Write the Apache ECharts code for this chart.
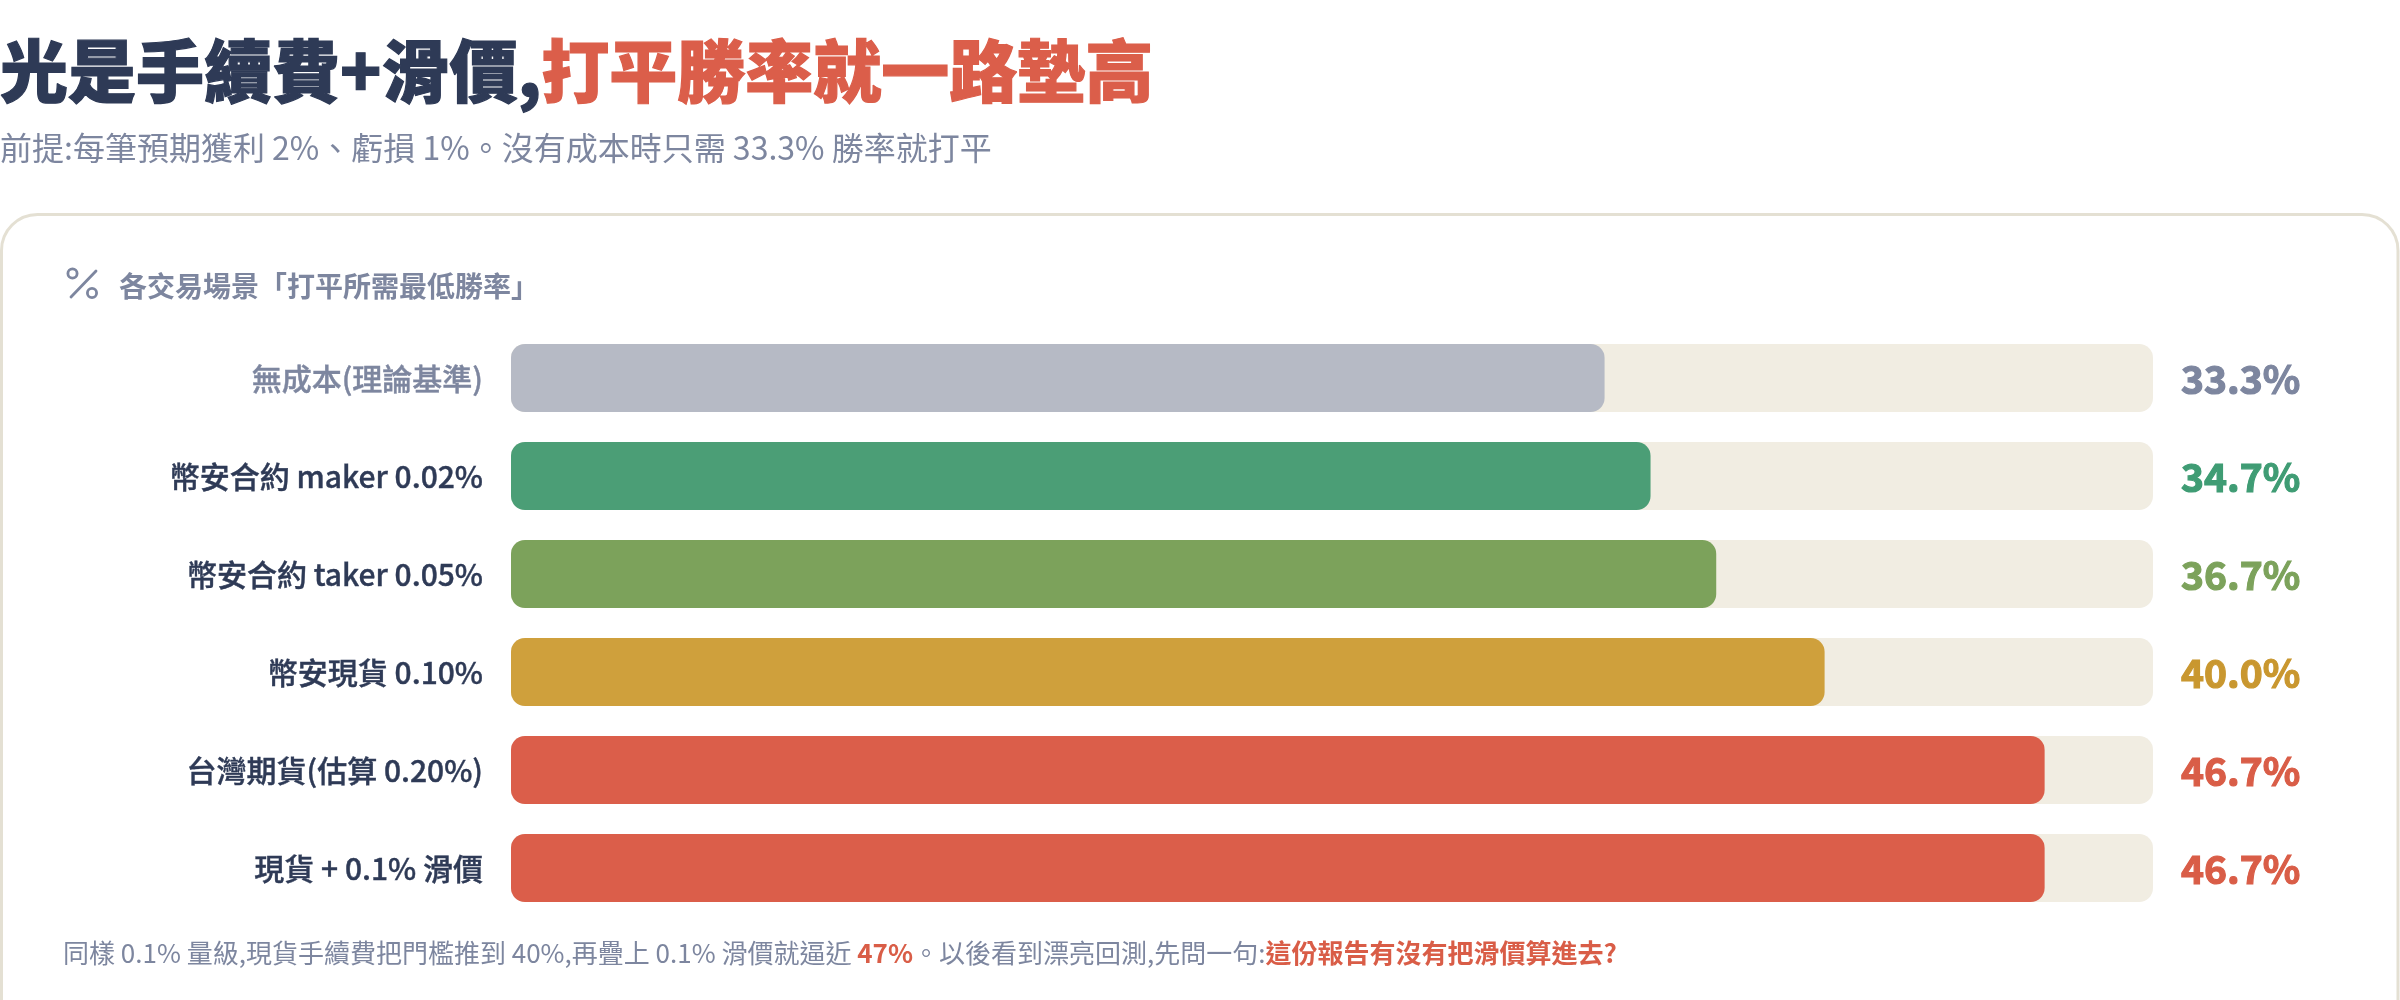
<!DOCTYPE html>
<html><head><meta charset="utf-8">
<style>html,body{margin:0;padding:0;background:#fff}#c{width:2400px;height:1000px}</style>
<script src="https://cdn.jsdelivr.net/npm/echarts@6/dist/echarts.min.js"></script>
</head><body><div id="c"></div>
<script>
const categories = ['無成本(理論基準)','幣安合約 maker 0.02%','幣安合約 taker 0.05%','幣安現貨 0.10%','台灣期貨(估算 0.20%)','現貨 + 0.1% 滑價'];
const values = [33.3,34.7,36.7,40.0,46.7,46.7];
const valueLabels = ['33.3%','34.7%','36.7%','40.0%','46.7%','46.7%'];
const barColors = ['#b6bac5','#4b9e76','#7ca25b','#cfa03c','#db5e4a','#db5e4a'];
const labelColors = ['#7d869f','#3f9c74','#7ca25b','#c9972f','#d95d47','#d95d47'];
const catColors = ['#7d869f','#2e3a56','#2e3a56','#2e3a56','#2e3a56','#2e3a56'];
const titleDark = '光是手續費+滑價,';
const titleRed = '打平勝率就一路墊高';
const subtitle = '前提:每筆預期獲利 2%、虧損 1%。沒有成本時只需 33.3% 勝率就打平';
const heading = '各交易場景「打平所需最低勝率」';
const note1 = '同樣 0.1% 量級,現貨手續費把門檻推到 40%,再疊上 0.1% 滑價就逼近 ';
const note2 = '47%';
const note3 = '。以後看到漂亮回測,先問一句:';
const note4 = '這份報告有沒有把滑價算進去?';

const FF = '"Noto Sans CJK TC"';
const GREY = '#7d869f';
const catRich = {}, valRich = {};
catColors.forEach((c,i)=>{catRich['c'+i]={fontFamily:FF,fontSize:30,fontWeight:500,color:c,textBorderColor:c,textBorderWidth:0.4,padding:[2,0,0,0]};});
labelColors.forEach((c,i)=>{valRich['v'+i]={fontFamily:FF,fontSize:39,fontWeight:700,color:c,textBorderColor:c,textBorderWidth:1.2,padding:[2,0,0,0]};});
const chart = echarts.init(document.getElementById('c'), null, {renderer:'canvas'});
chart.setOption({
  animation:false,
  backgroundColor:'#ffffff',
  textStyle:{fontFamily:FF},
  graphic:[
    {type:'rect',z:-10,silent:true,shape:{x:1.5,y:214.5,width:2396.5,height:900,r:36},style:{fill:'#ffffff',stroke:'#e4e0d3',lineWidth:3}},
    {type:'text',x:0,y:71,style:{rich:{
        a:{fontFamily:FF,fontSize:68,fontWeight:900,fill:'#2e3a56',stroke:'#2e3a56',lineWidth:1.2},
        b:{fontFamily:FF,fontSize:68,fontWeight:900,fill:'#db5e4a',stroke:'#db5e4a',lineWidth:1.2}},
      text:'{a|'+titleDark+'}{b|'+titleRed+'}',verticalAlign:'middle'}},
    {type:'text',x:0,y:148,style:{text:subtitle,fontFamily:FF,fontSize:32,fontWeight:400,fill:GREY,verticalAlign:'middle'}},
    {type:'circle',shape:{cx:72.5,cy:273.5,r:4.6},style:{fill:'none',stroke:GREY,lineWidth:2.8}},
    {type:'circle',shape:{cx:92,cy:293,r:4.6},style:{fill:'none',stroke:GREY,lineWidth:2.8}},
    {type:'line',shape:{x1:96,y1:271,x2:71,y2:297},style:{stroke:GREY,lineWidth:2.8,lineCap:'round'}},
    {type:'text',x:119,y:286,style:{text:heading,fontFamily:FF,fontSize:28,fontWeight:700,fill:GREY,verticalAlign:'middle'}},
    {type:'text',x:63,y:953,style:{rich:{n:{fontFamily:FF,fontSize:26,fontWeight:400,fill:GREY},r:{fontFamily:FF,fontSize:26,fontWeight:700,fill:'#d95d47'}},text:'{n|'+note1+'}{r|'+note2+'}{n|'+note3+'}{r|'+note4+'}',verticalAlign:'middle'}}
  ],
  grid:{left:511,top:329,width:1642,height:588,containLabel:false},
  xAxis:{type:'value',min:0,max:50,show:false},
  yAxis:[
    {type:'category',inverse:true,data:categories,axisLine:{show:false},axisTick:{show:false},splitLine:{show:false},
     axisLabel:{margin:28,rich:catRich,formatter:(v,i)=>'{c'+i+'|'+v+'}'}},
    {type:'category',inverse:true,position:'right',data:valueLabels,axisLine:{show:false},axisTick:{show:false},splitLine:{show:false},
     axisLabel:{margin:28,align:'left',rich:valRich,formatter:(v,i)=>'{v'+i+'|'+v+'}'}}
  ],
  series:[{
    type:'bar',yAxisIndex:0,barWidth:68,
    showBackground:true,
    backgroundStyle:{color:'#f1ede2',borderRadius:14},
    itemStyle:{borderRadius:14},
    data:values.map((v,i)=>({value:v,itemStyle:{color:barColors[i]}}))
  }]
});
</script></body></html>
